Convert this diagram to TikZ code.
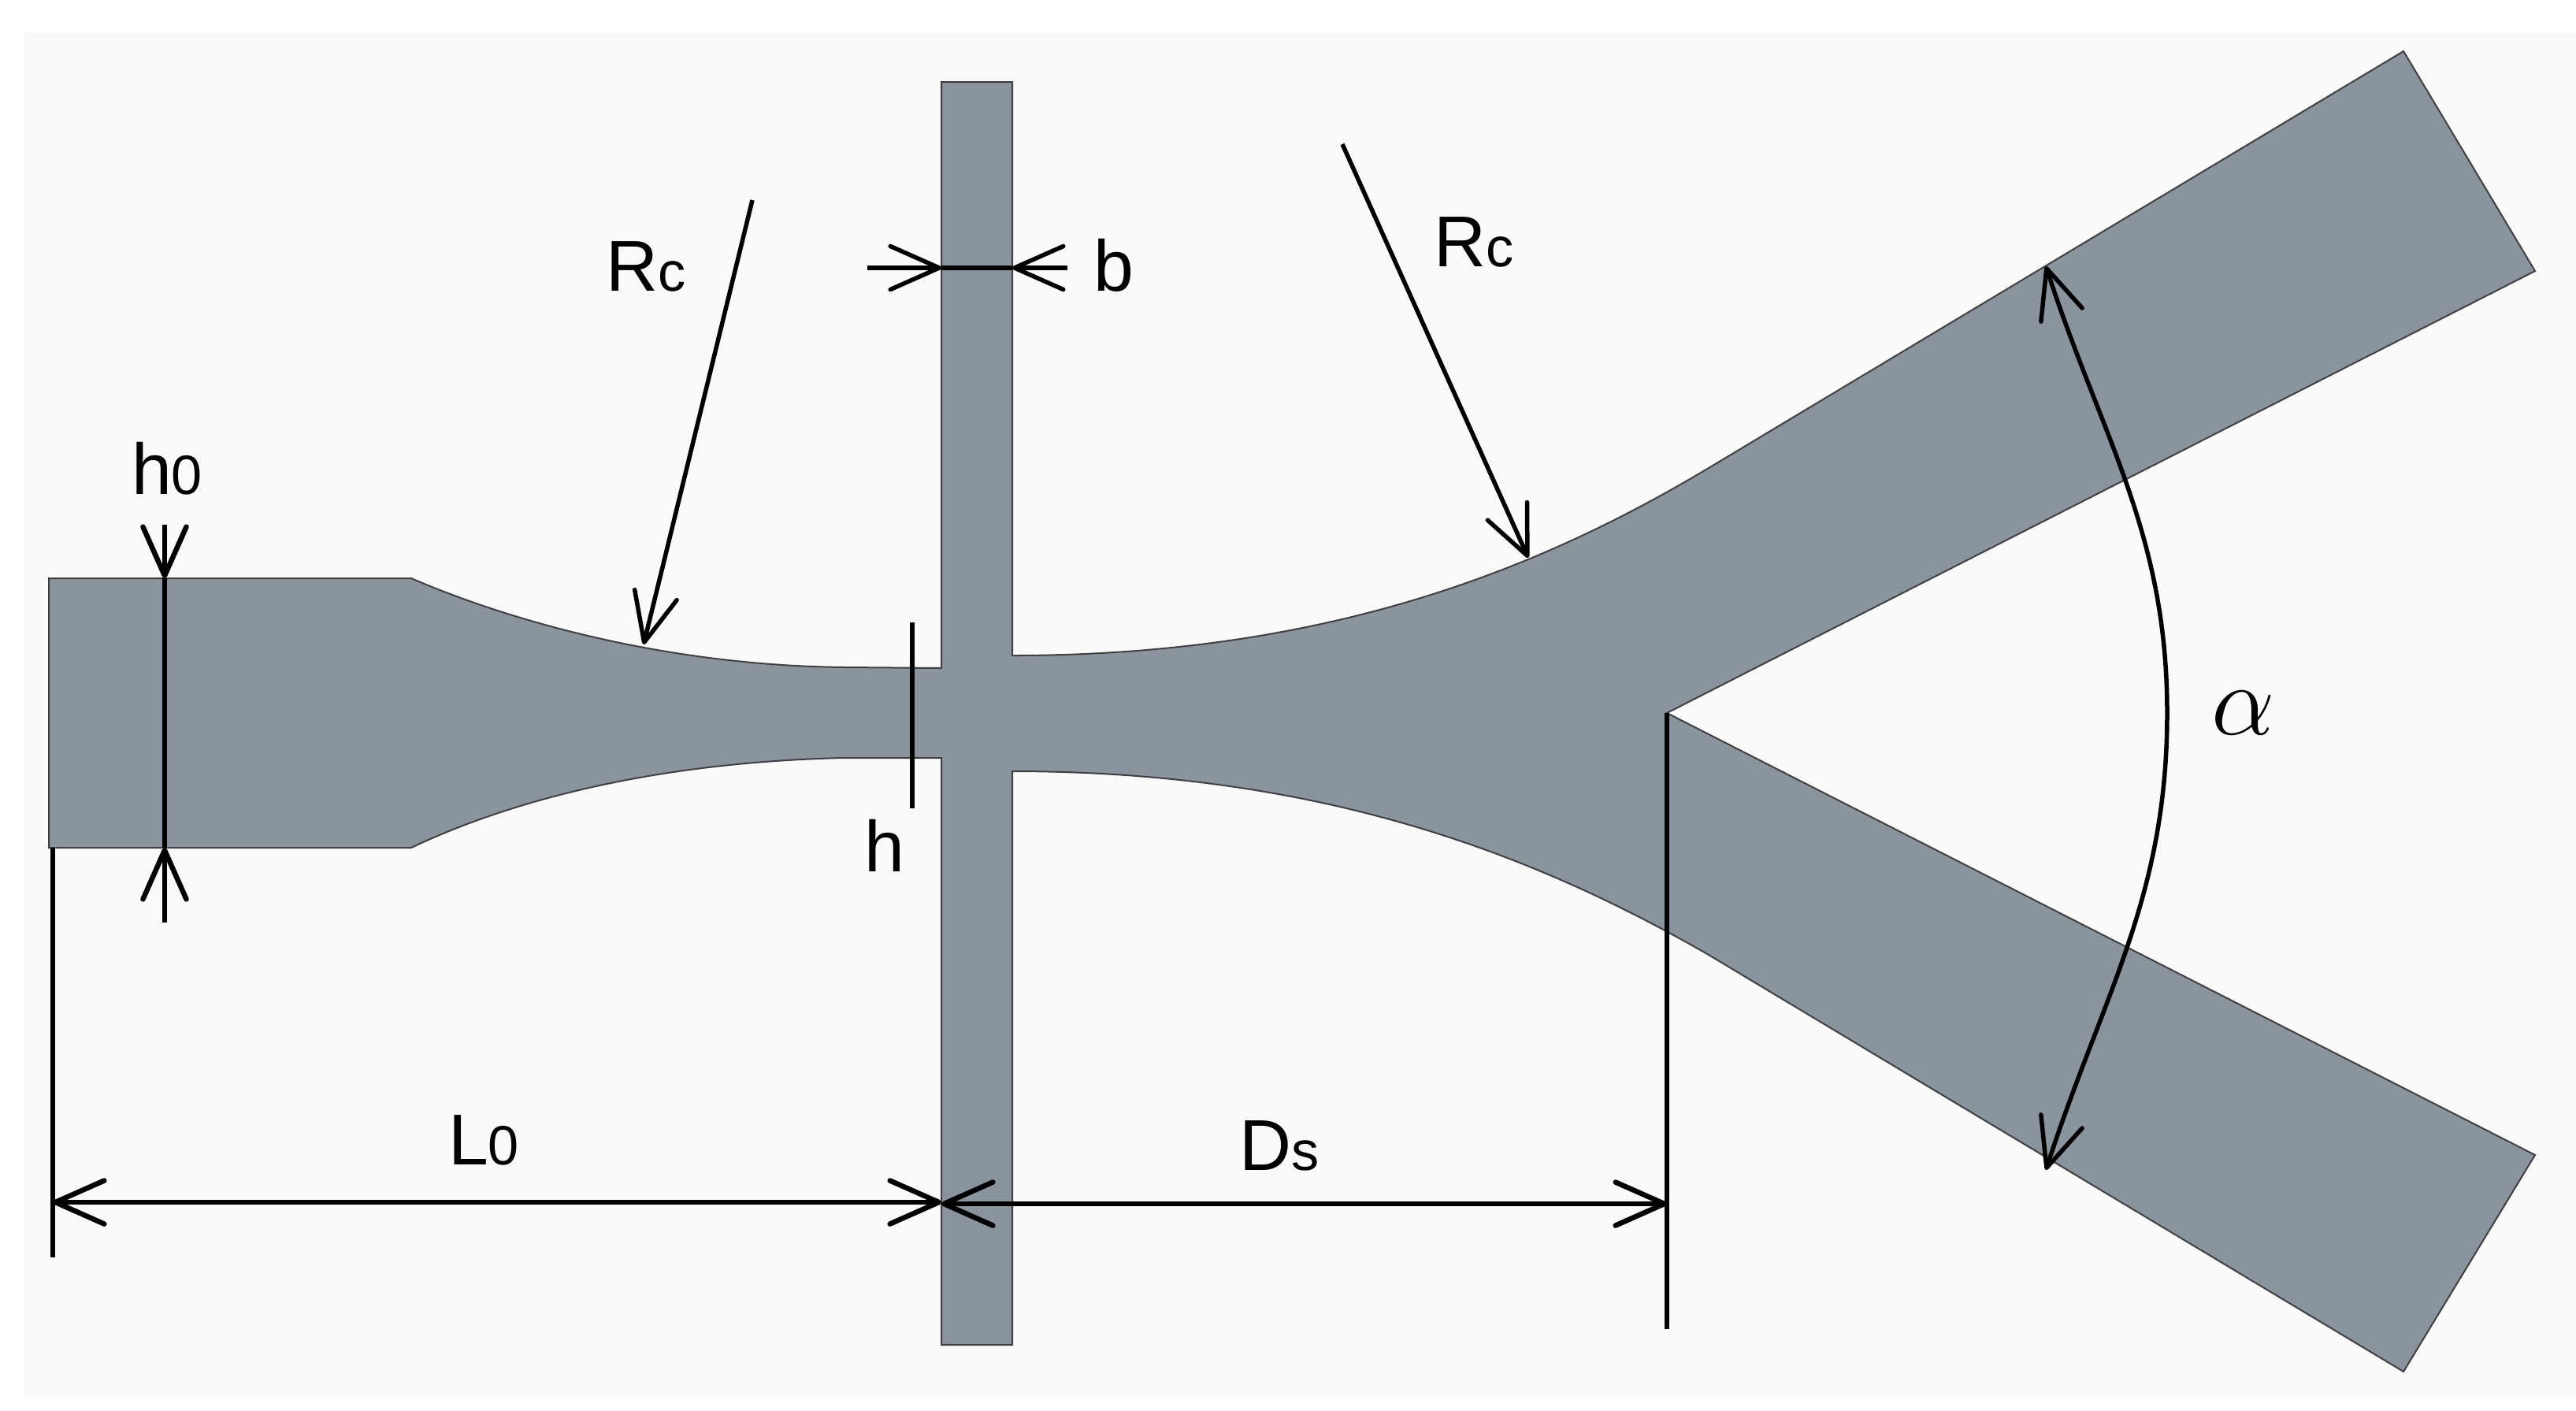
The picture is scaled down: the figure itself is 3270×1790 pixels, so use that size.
\documentclass[tikz,border=0pt]{standalone}
\usepackage{fontspec}
\setmainfont{Liberation Sans}
\usetikzlibrary{arrows.meta}
\definecolor{chipgray}{HTML}{8A949E}
\definecolor{paperbg}{HTML}{FAFAFA}
\newcommand{\smalldigit}[1]{{\fontsize{20}{24}\selectfont #1}}

\begin{document}
\begin{tikzpicture}[
	x=0.01cm, y=-0.01cm,
	>={Straight Barb[length=0.62cm, width=0.55cm, round]},
	chip/.style={fill=chipgray, draw=black!75, line width=0.02cm, line join=miter},
	dimln/.style={line width=0.065cm, black},
	thinln/.style={line width=0.055cm, black},
	lbl/.style={anchor=base, inner sep=0pt, font=\fontsize{26}{30}\selectfont}
]
	\useasboundingbox (0, 0) rectangle (3270, 1790);
	\fill[white] (0, 0) rectangle (3270, 1790);
	\fill[paperbg] (29, 41) rectangle (3270, 1776);
	% channel and branches
	\draw[chip] (62, 734) -- (522, 734)
		.. controls (640, 785) and (840, 845) .. (1074, 847) -- (1195, 848)
		-- (1195, 104) -- (1285, 104) -- (1285, 832)
		.. controls (1680, 832) and (1950, 725) .. (2169, 594)
		-- (3051, 65) -- (3218, 344) -- (2116, 905) -- (3218, 1466) -- (3051, 1741)
		-- (2169, 1212)
		.. controls (1950, 1086) and (1680, 979) .. (1285, 979)
		-- (1285, 1707) -- (1195, 1707) -- (1195, 962) -- (1070, 962)
		.. controls (820, 968) and (640, 1020) .. (522, 1076)
		-- (62, 1076) -- cycle;
	\coordinate (h0a) at (209, 666);
	\coordinate (h0b) at (209, 734);
	\coordinate (h0c) at (209, 1076);
	\coordinate (h0d) at (209, 1171);
	\coordinate (ha) at (1158, 790);
	\coordinate (hb) at (1158, 1026);
	\coordinate (ba) at (1101, 340);
	\coordinate (bb) at (1195, 340);
	\coordinate (bc) at (1285, 340);
	\coordinate (bd) at (1355, 340);
	\coordinate (rca) at (955, 254);
	\coordinate (rcb) at (817, 818);
	\coordinate (rcc) at (1704, 183);
	\coordinate (rcd) at (1940, 708);
	\coordinate (lfa) at (67, 1076);
	\coordinate (lfb) at (67, 1596);
	\coordinate (lfc) at (67, 1526);
	\coordinate (lfd) at (1195, 1526);
	\coordinate (dsa) at (1195, 1528);
	\coordinate (dsb) at (2116, 1528);
	\coordinate (dsc) at (2116, 905);
	\coordinate (dsd) at (2116, 1687);
	\coordinate (ala) at (2597, 338);
	\coordinate (alb) at (2751, 905);
	\coordinate (alc) at (2597, 1485);
	\draw[dimln, ->] (h0a) to (h0b);
	\draw[dimln] (h0b) to (h0c);
	\draw[dimln, ->] (h0d) to (h0c);
	\draw[thinln] (ha) to (hb);
	\draw[thinln, ->] (ba) to (bb);
	\draw[thinln] (bb) to (bc);
	\draw[thinln, ->] (bd) to (bc);
	\draw[thinln, ->] (rca) to (rcb);
	\draw[thinln, ->] (rcc) to (rcd);
	\draw[thinln] (lfa) to (lfb);
	\draw[dimln, <->] (lfc) to (lfd);
	\draw[dimln, <->] (dsa) to (dsb);
	\draw[thinln] (dsc) to (dsd);
	\draw[thinln, <-] (ala) to[out = -72, in = 90] (alb);
	\draw[thinln, ->] (alb) to[out = -90, in = 72] (alc);
	\node[lbl] (hzero) at (212, 627) {h\smalldigit{0}};
	\node[lbl] (hlab) at (1123, 1106) {h};
	\node[lbl] (rcleft) at (820, 369) {R\smalldigit{c}};
	\node[lbl] (rcright) at (1871, 338) {R\smalldigit{c}};
	\node[lbl] (blab) at (1414, 369) {b};
	\node[lbl] (lzero) at (614, 1478) {L\smalldigit{0}};
	\node[lbl] (dslab) at (1624, 1485) {D\smalldigit{s}};
	\node[inner sep=0pt, font=\huge, scale=1.75] (alphalab) at (2848, 905) {$\alpha$};
\end{tikzpicture}
\end{document}
